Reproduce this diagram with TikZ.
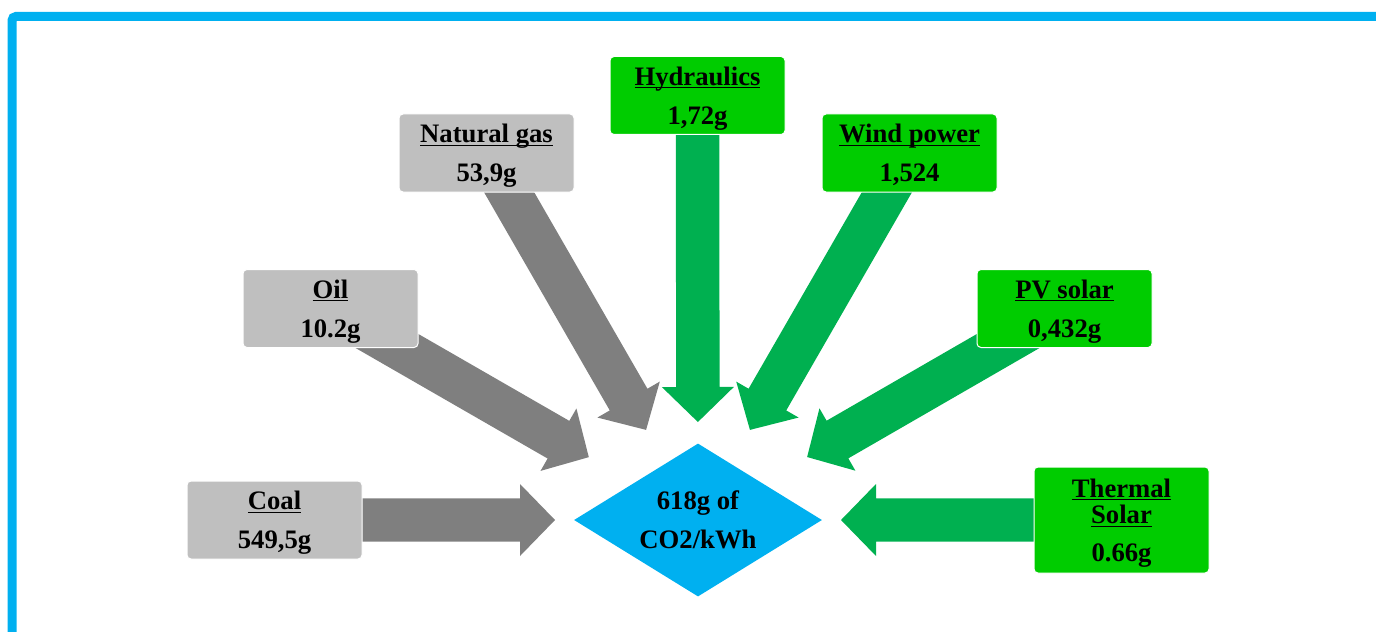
\documentclass[tikz,border=0pt]{standalone}
\usepackage{fontspec}
\setmainfont{Liberation Serif}
\usetikzlibrary{calc,shapes.geometric,backgrounds}

\definecolor{framecol}{HTML}{00B0F0}
\definecolor{boxgray}{HTML}{BFBFBF}
\definecolor{arrgray}{HTML}{7F7F7F}
\definecolor{boxgreen}{HTML}{00CC00}
\definecolor{arrgreen}{HTML}{00B050}

% underlined first line, rule kept close to the baseline
\newcommand{\heading}[1]{\underline{\raisebox{0pt}[\height][0pt]{#1}}}

% fat arrow from node #1 towards node #2, tip stops #3 short of #2
\newcommand{\blockarrow}[4]{%
	\coordinate (tip) at ($(#2.center)!#3!(#1.center)$);
	\coordinate (neck) at ($(tip)!26.25pt!(#1.center)$);
	\fill[#4] ($(#1.center)!16.3pt!90:(tip)$) -- ($(neck)!16.3pt!90:(tip)$) -- ($(neck)!27pt!90:(tip)$) -- (tip)
		-- ($(neck)!27pt!-90:(tip)$) -- ($(neck)!16.3pt!-90:(tip)$) -- ($(#1.center)!16.3pt!-90:(tip)$) -- cycle;
}

\begin{document}
\begin{tikzpicture}[x=0.75pt, y=-0.75pt, font=\bfseries\fontsize{20}{29}\selectfont,
	source/.style={rounded corners=3pt, draw=white, line width=0.75pt, minimum width=131.25pt, minimum height=58.5pt, inner sep=0pt, text depth=0pt, align=center},
	fossil/.style={source, fill=boxgray},
	clean/.style={source, fill=boxgreen},
	hub/.style={diamond, fill=framecol, aspect=1.6, inner sep=0pt, minimum width=186pt, minimum height=114.75pt, align=center}]
	\useasboundingbox (0,0) rectangle (1376,631);
	
	% Blue frame
	\draw[framecol, line width=6.75pt, rounded corners=3pt] (12,640) -- (12,16.5) -- (1390,16.5);
	
	% Fossil sources
	\node[fossil] (coal) at (274.5,520) {\heading{Coal}\\549,5g};
	\node[fossil] (oil) at (330.5,308.5) {\heading{Oil}\\10.2g};
	\node[fossil] (gas) at (486.5,153) {\heading{Natural gas}\\53,9g};
	
	% Renewable sources
	\node[clean] (hydro) at (697.5,95.5) {\heading{Hydraulics}\\1,72g};
	\node[clean] (wind) at (909.5,153) {\heading{Wind power}\\1,524};
	\node[clean] (pv) at (1064.5,308.5) {\heading{PV solar}\\0,432g};
	\node[clean, minimum height=79.5pt] (thermal) at (1121.5,520) {\heading{Thermal}\\[-9pt]\heading{Solar}\\[-1pt]0.66g};
	
	% Total
	\node[hub] (co2) at (698,520) {618g of\\CO2/kWh};
	
	% Arrows behind the boxes
	\begin{scope}[on background layer]
		\blockarrow{coal}{co2}{107.25pt}{arrgray}
		\blockarrow{oil}{co2}{94.5pt}{arrgray}
		\blockarrow{gas}{co2}{78pt}{arrgray}
		\blockarrow{hydro}{co2}{73.5pt}{arrgreen}
		\blockarrow{wind}{co2}{78pt}{arrgreen}
		\blockarrow{pv}{co2}{94.5pt}{arrgreen}
		\blockarrow{thermal}{co2}{107.25pt}{arrgreen}
	\end{scope}
\end{tikzpicture}
\end{document}
